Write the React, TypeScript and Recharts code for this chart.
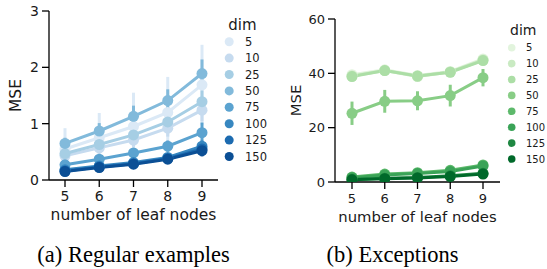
import React from 'react';
import { LineChart, Line, XAxis, YAxis, ErrorBar, Legend, Label } from 'recharts';

const leafNodes = [5, 6, 7, 8, 9];
const dimLabels = ['5', '10', '25', '50', '75', '100', '125', '150'];

const bluePalette = ['#dbe9f6', '#c6dbef', '#a6cee4', '#82badb', '#5ba3d0', '#3787c0', '#1c6bb0', '#0b4f95'];
const greenPalette = ['#e2f4dd', '#c9eac2', '#acdea6', '#88cd86', '#5db96b', '#3aa357', '#1f8742', '#00692a'];

// (a) Regular examples: mean MSE per dim (rows) per leaf-node count (cols)
const regularMeans = [
  [0.55, 0.75, 0.95, 1.2, 1.69],
  [0.43, 0.57, 0.71, 0.92, 1.24],
  [0.47, 0.63, 0.8, 1.03, 1.39],
  [0.65, 0.87, 1.13, 1.41, 1.89],
  [0.27, 0.37, 0.48, 0.6, 0.84],
  [0.18, 0.25, 0.31, 0.4, 0.6],
  [0.16, 0.23, 0.29, 0.38, 0.55],
  [0.15, 0.22, 0.28, 0.37, 0.52],
];
const regularErrors = [
  [0.37, 0.44, 0.6, 0.63, 0.71],
  [0.08, 0.1, 0.12, 0.15, 0.2],
  [0.1, 0.12, 0.15, 0.18, 0.2],
  [0.1, 0.14, 0.19, 0.2, 0.25],
  [0.05, 0.06, 0.08, 0.1, 0.18],
  [0.03, 0.04, 0.05, 0.07, 0.1],
  [0.03, 0.04, 0.05, 0.06, 0.1],
  [0.03, 0.03, 0.04, 0.06, 0.1],
];

// (b) Exceptions
const exceptionMeans = [
  [39.5, 41.3, 39.2, 40.7, 45.3],
  [39.0, 41.0, 38.8, 40.5, 44.9],
  [38.8, 41.0, 39.0, 40.4, 44.7],
  [25.3, 29.7, 29.9, 31.8, 38.4],
  [1.8, 2.9, 3.4, 4.3, 6.3],
  [1.6, 2.6, 3.1, 3.9, 5.9],
  [1.0, 1.4, 1.7, 2.3, 3.2],
  [0.8, 1.2, 1.5, 2.0, 2.9],
];
const exceptionErrors = [
  [0.8, 0.8, 0.8, 0.8, 1.0],
  [0.8, 0.8, 0.8, 0.8, 1.0],
  [0.8, 0.8, 0.8, 0.8, 1.0],
  [4.3, 4.2, 3.5, 4.0, 3.2],
  [0.5, 0.5, 0.5, 0.6, 0.8],
  [0.4, 0.4, 0.4, 0.5, 0.7],
  [0.3, 0.3, 0.3, 0.4, 0.5],
  [0.3, 0.3, 0.3, 0.4, 0.5],
];

const regularTicks = [0, 1, 2, 3];
const exceptionTicks = [0, 20, 40, 60];

const FONT = "'DejaVu Sans', sans-serif";
const INK = '#1a1a1a';

function buildRows(means: number[][], errors: number[][]) {
  return leafNodes.map((leaf, j) => {
    const row: any = { leaf };
    dimLabels.forEach((_, i) => {
      row[`m${i}`] = means[i][j];
      row[`e${i}`] = errors[i][j];
    });
    return row;
  });
}

type LegendCfg = {
  left: number; top: number; w: number; h: number;
  titleX: number; titleY: number; titleSize: number;
  dotX: number; firstY: number; step: number; r: number;
  textX: number; size: number;
};

const DimLegend = ({ colors, cfg }: { colors: string[]; cfg: LegendCfg }) => (
  <svg width={cfg.w} height={cfg.h} style={{ display: 'block', overflow: 'visible' }}>
    <text x={cfg.titleX} y={cfg.titleY} fontSize={cfg.titleSize} fill={INK} fontFamily={FONT}>dim</text>
    {dimLabels.map((d, i) => (
      <g key={d}>
        <circle cx={cfg.dotX} cy={cfg.firstY + i * cfg.step} r={cfg.r} fill={colors[i]} />
        <text x={cfg.textX} y={cfg.firstY + i * cfg.step} dy="0.36em" fontSize={cfg.size} fill={INK} fontFamily={FONT}>{d}</text>
      </g>
    ))}
  </svg>
);

type PanelCfg = {
  width: number; height: number;
  margin: { top: number; right: number; bottom: number; left: number };
  yWidth: number; xHeight: number; xPad: number;
  tickSize: number; xTickMargin: number; yTickMargin: number; tickFont: number;
  labelFont: number; xLabelOffset: number; yLabelDx: number;
  domain: [number, number]; ticks: number[];
  legend: LegendCfg;
};

const Panel = ({ rows, colors, cfg }: { rows: any[]; colors: string[]; cfg: PanelCfg }) => {
  const axisLine = { stroke: '#000', strokeWidth: 1.3 };
  const tickStyle = { fontSize: cfg.tickFont, fill: INK, fontFamily: FONT };
  return (
    <LineChart width={cfg.width} height={cfg.height} data={rows} margin={cfg.margin}>
      <XAxis
        dataKey="leaf"
        height={cfg.xHeight}
        padding={{ left: cfg.xPad, right: cfg.xPad }}
        axisLine={axisLine}
        tickLine={axisLine}
        tickSize={cfg.tickSize}
        tickMargin={cfg.xTickMargin}
        tick={tickStyle}
      >
        <Label value="number of leaf nodes" position="insideBottom" offset={cfg.xLabelOffset}
          fontSize={cfg.labelFont} fill={INK} fontFamily={FONT} />
      </XAxis>
      <XAxis xAxisId="top" orientation="top" dataKey="leaf" height={0} tick={false} tickLine={false}
        axisLine={axisLine} padding={{ left: cfg.xPad, right: cfg.xPad }} />
      <YAxis
        width={cfg.yWidth}
        type="number"
        domain={cfg.domain}
        ticks={cfg.ticks}
        axisLine={axisLine}
        tickLine={axisLine}
        tickSize={cfg.tickSize}
        tickMargin={cfg.yTickMargin}
        tick={tickStyle}
        allowDataOverflow
      >
        <Label value="MSE" angle={-90} position="center" dx={cfg.yLabelDx}
          fontSize={cfg.labelFont} fill={INK} fontFamily={FONT} />
      </YAxis>
      <YAxis yAxisId="right" orientation="right" width={0} type="number" domain={[0, 1]}
        tick={false} tickLine={false} axisLine={axisLine} />
      <Legend
        layout="vertical"
        align="center"
        verticalAlign="middle"
        wrapperStyle={{ left: cfg.legend.left, top: cfg.legend.top, width: cfg.legend.w, height: cfg.legend.h }}
        content={() => <DimLegend colors={colors} cfg={cfg.legend} />}
      />
      {dimLabels.map((d, i) => (
        <Line
          key={d}
          dataKey={`m${i}`}
          name={d}
          stroke={colors[i]}
          strokeWidth={3}
          dot={{ r: 5.5, fill: colors[i], stroke: colors[i], strokeWidth: 0 }}
          activeDot={false}
          isAnimationActive={false}
        >
          <ErrorBar dataKey={`e${i}`} width={0} stroke={colors[i]} strokeWidth={3} direction="y" isAnimationActive={false} />
        </Line>
      ))}
    </LineChart>
  );
};

const regularCfg: PanelCfg = {
  width: 270, height: 230,
  margin: { top: 11, right: 52, bottom: 4, left: 0 },
  yWidth: 49, xHeight: 46, xPad: 16,
  tickSize: 7, xTickMargin: 4, yTickMargin: 3, tickFont: 14,
  labelFont: 15.5, xLabelOffset: 6, yLabelDx: -9,
  domain: [0, 3], ticks: regularTicks,
  legend: {
    left: 222, top: 10, w: 48, h: 160,
    titleX: 6.3, titleY: 19.5, titleSize: 15,
    dotX: 7.2, firstY: 31.7, step: 16.4, r: 4.5,
    textX: 23, size: 11.5,
  },
};

const exceptionCfg: PanelCfg = {
  width: 277, height: 230,
  margin: { top: 19, right: 47, bottom: 2, left: 0 },
  yWidth: 65, xHeight: 46, xPad: 17,
  tickSize: 7, xTickMargin: 5, yTickMargin: 3, tickFont: 13,
  labelFont: 14.8, xLabelOffset: 6, yLabelDx: -7,
  domain: [0, 60], ticks: exceptionTicks,
  legend: {
    left: 236, top: 15, w: 41, h: 160,
    titleX: 4, titleY: 20, titleSize: 14,
    dotX: 5.7, firstY: 32.7, step: 15.9, r: 3.8,
    textX: 20, size: 10,
  },
};

const captionStyle: React.CSSProperties = {
  position: 'absolute',
  top: 244,
  fontFamily: "'Liberation Serif', 'Times New Roman', serif",
  fontSize: 22.5,
  lineHeight: '22px',
  color: '#000',
  whiteSpace: 'nowrap',
  transform: 'translateX(-50%)',
};

export default function App() {
  const regularRows = buildRows(regularMeans, regularErrors);
  const exceptionRows = buildRows(exceptionMeans, exceptionErrors);
  return (
    <div style={{ position: 'absolute', left: 0, top: 0, width: 547, height: 269, background: '#fff', overflow: 'hidden' }}>
      <div style={{ position: 'absolute', left: 0, top: 0 }}>
        <Panel rows={regularRows} colors={bluePalette} cfg={regularCfg} />
      </div>
      <div style={{ position: 'absolute', left: 270, top: 0 }}>
        <Panel rows={exceptionRows} colors={greenPalette} cfg={exceptionCfg} />
      </div>
      <div style={{ ...captionStyle, left: 133.5 }}>(a) Regular examples</div>
      <div style={{ ...captionStyle, left: 392.5 }}>(b) Exceptions</div>
    </div>
  );
}
